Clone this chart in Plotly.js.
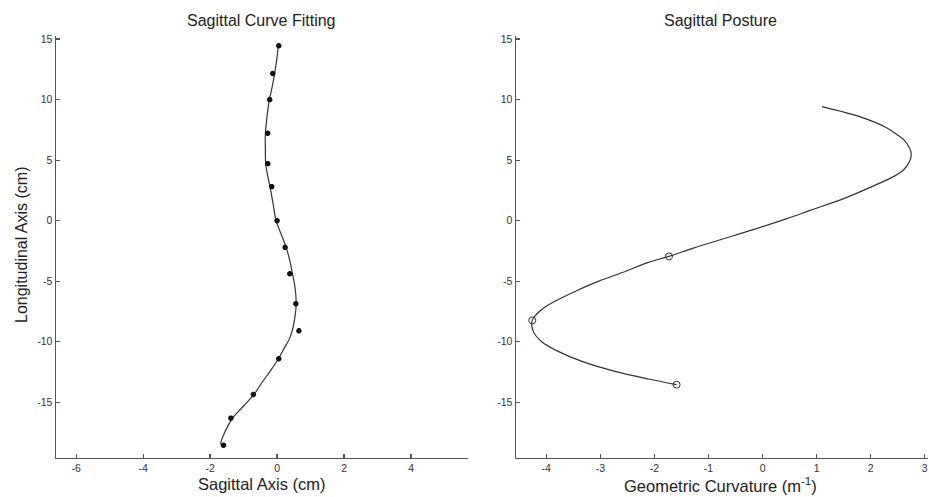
<!DOCTYPE html>
<html>
<head>
<meta charset="utf-8">
<script src="https://cdn.plot.ly/plotly-3.0.1.min.js"></script>
<style>
html,body{margin:0;padding:0;background:#fff;}
#chart{width:929px;height:497px;}
</style>
</head>
<body>
<div id="chart"></div>
<script>
// Left panel: measured points
const ptsX = [0.05, -0.13, -0.22, -0.28, -0.28, -0.16, 0.0, 0.24, 0.38, 0.56, 0.65, 0.05, -0.71, -1.38, -1.6];
const ptsY = [14.44, 12.15, 10.0, 7.22, 4.71, 2.81, 0.0, -2.2, -4.38, -6.86, -9.09, -11.4, -14.35, -16.3, -18.54];
// Left panel: fitted curve
const fitX = [0.03, 0.0, -0.07, -0.15, -0.23, -0.3, -0.35, -0.35, -0.34, -0.28, -0.21, -0.12, -0.03, 0.12, 0.27, 0.38, 0.46, 0.54, 0.57, 0.53, 0.46, 0.36, 0.22, 0.04, -0.2, -0.46, -0.69, -1.0, -1.33, -1.55, -1.68, -1.64];
const fitY = [14.4, 13.5, 12.2, 11.0, 10.0, 8.6, 7.2, 6.0, 4.7, 3.7, 2.8, 1.4, 0.0, -1.1, -2.2, -3.3, -4.4, -5.6, -6.9, -8.0, -9.0, -9.8, -10.5, -11.4, -12.4, -13.4, -14.35, -15.3, -16.3, -17.4, -18.4, -18.6];
// Right panel: curvature profile
const curvX = [1.1, 1.81, 2.30, 2.49, 2.61, 2.72, 2.75, 2.72, 2.61, 2.43, 1.99, 1.50, 0.88, 0.45, -0.17, -0.78, -1.28, -1.73, -2.11, -2.54, -3.04, -3.47, -3.84, -4.09, -4.26, -4.24, -4.09, -3.78, -3.34, -2.73, -2.11, -1.59];
const curvY = [9.42, 8.57, 7.66, 7.1, 6.69, 6.0, 5.5, 4.9, 4.21, 3.66, 2.75, 1.82, 0.85, 0.17, -0.74, -1.57, -2.26, -2.95, -3.44, -4.19, -5.01, -5.84, -6.66, -7.35, -8.23, -9.14, -9.97, -10.79, -11.62, -12.44, -13.07, -13.54];
// Right panel: marked points
const markX = [-1.73, -4.26, -1.59];
const markY = [-2.95, -8.23, -13.54];

const yTicks = [-15, -10, -5, 0, 5, 10, 15];
const xTicksL = [-6, -4, -2, 0, 2, 4];
const xTicksR = [-4, -3, -2, -1, 0, 1, 2, 3];

const FONT = '"Liberation Sans", Arial, Helvetica, sans-serif';
const W = 929, H = 497;

const traces = [
  {x: fitX, y: fitY, type: 'scatter', mode: 'lines', line: {color: '#333', width: 1.2, shape: 'spline', smoothing: 0.9}, xaxis: 'x', yaxis: 'y', hoverinfo: 'skip'},
  {x: ptsX, y: ptsY, type: 'scatter', mode: 'markers', marker: {symbol: 'asterisk-open', size: 4.5, color: '#111', line: {color: '#111', width: 1.8}}, xaxis: 'x', yaxis: 'y'},
  {x: curvX, y: curvY, type: 'scatter', mode: 'lines', line: {color: '#333', width: 1.2, shape: 'spline', smoothing: 0.9}, xaxis: 'x2', yaxis: 'y2', hoverinfo: 'skip'},
  {x: markX, y: markY, type: 'scatter', mode: 'markers', marker: {symbol: 'circle-open', size: 7, color: '#333', line: {color: '#333', width: 1}}, xaxis: 'x2', yaxis: 'y2'}
];

const axisCommon = {
  showgrid: false, zeroline: false, showline: true, linecolor: '#555', linewidth: 1.5,
  ticks: 'inside', ticklen: 4, tickwidth: 1.2, tickcolor: '#555',
  tickfont: {family: FONT, size: 10.5, color: '#333'}, mirror: false
};
const yRange = [-19.57, 15.25];
const yDom = [1 - 457.7 / H, 1 - 36 / H];

const layout = {
  width: W, height: H,
  margin: {l: 0, r: 0, t: 0, b: 0},
  paper_bgcolor: '#fff', plot_bgcolor: '#fff',
  showlegend: false,
  xaxis: Object.assign({}, axisCommon, {domain: [56 / W, 467.7 / W], range: [-6.6, 5.69], tickvals: xTicksL, ticktext: xTicksL.map(String), anchor: 'y'}),
  yaxis: Object.assign({}, axisCommon, {domain: yDom, range: yRange, tickvals: yTicks, ticktext: yTicks.map(String), anchor: 'x'}),
  xaxis2: Object.assign({}, axisCommon, {domain: [516 / W, 928 / W], range: [-4.56, 3.06], tickvals: xTicksR, ticktext: xTicksR.map(String), anchor: 'y2'}),
  yaxis2: Object.assign({}, axisCommon, {domain: yDom, range: yRange, tickvals: yTicks, ticktext: yTicks.map(String), anchor: 'x2'}),
  annotations: [
    {text: 'Sagittal Curve Fitting', xref: 'paper', yref: 'paper', x: 261 / W, y: 1 - 21 / H, showarrow: false, xanchor: 'center', yanchor: 'middle', font: {family: FONT, size: 16, color: '#222'}},
    {text: 'Sagittal Posture', xref: 'paper', yref: 'paper', x: 720 / W, y: 1 - 21 / H, showarrow: false, xanchor: 'center', yanchor: 'middle', font: {family: FONT, size: 16, color: '#222'}},
    {text: 'Sagittal Axis (cm)', xref: 'paper', yref: 'paper', x: 261 / W, y: 1 - 484 / H, showarrow: false, xanchor: 'center', yanchor: 'middle', font: {family: FONT, size: 16.5, color: '#222'}},
    {text: 'Geometric Curvature (m<sup>-1</sup>)', xref: 'paper', yref: 'paper', x: 720 / W, y: 1 - 485 / H, showarrow: false, xanchor: 'center', yanchor: 'middle', font: {family: FONT, size: 16.5, color: '#222'}},
    {text: 'Longitudinal Axis (cm)', xref: 'paper', yref: 'paper', x: 21 / W, y: 1 - 245 / H, showarrow: false, xanchor: 'center', yanchor: 'middle', textangle: -90, font: {family: FONT, size: 16, color: '#222'}}
  ]
};

Plotly.newPlot('chart', traces, layout, {displayModeBar: false, staticPlot: true});
</script>
</body>
</html>
